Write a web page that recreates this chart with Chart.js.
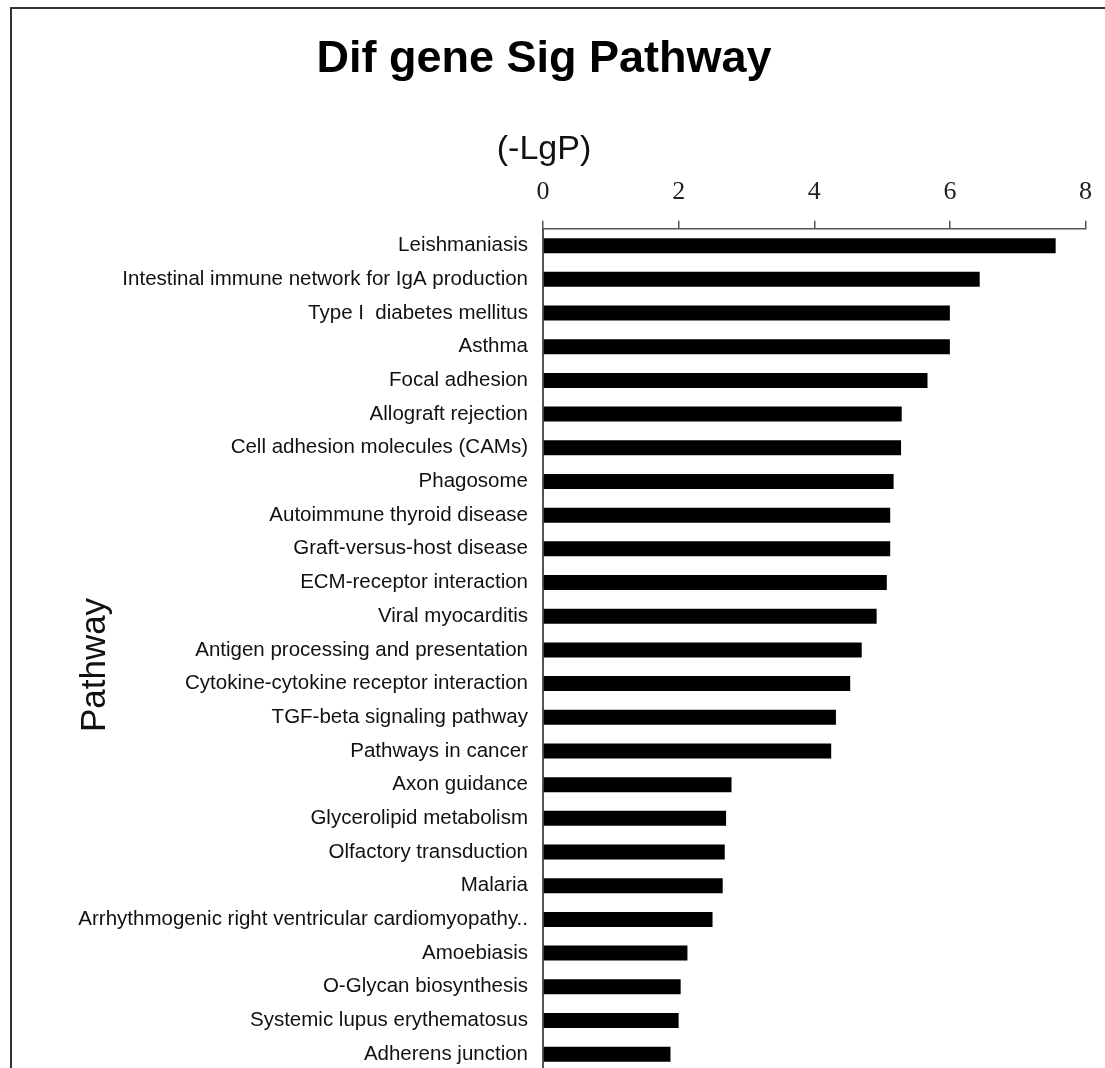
<!DOCTYPE html>
<html>
<head>
<meta charset="utf-8">
<script src="https://cdn.jsdelivr.net/npm/chart.js@4/dist/chart.umd.min.js"></script>
<style>
  html, body { margin: 0; padding: 0; background: #fff; overflow: hidden; }
  #wrap { width: 1105px; height: 1068px; overflow: hidden; }
</style>
</head>
<body>
<div id="wrap"><canvas id="c" width="1105" height="1100"></canvas></div>
<script>
const chartTitle = 'Dif gene Sig Pathway';
const xAxisTitle = '(-LgP)';
const yAxisTitle = 'Pathway';

const categories = [
  'Leishmaniasis',
  'Intestinal immune network for IgA production',
  'Type I  diabetes mellitus',
  'Asthma',
  'Focal adhesion',
  'Allograft rejection',
  'Cell adhesion molecules (CAMs)',
  'Phagosome',
  'Autoimmune thyroid disease',
  'Graft-versus-host disease',
  'ECM-receptor interaction',
  'Viral myocarditis',
  'Antigen processing and presentation',
  'Cytokine-cytokine receptor interaction',
  'TGF-beta signaling pathway',
  'Pathways in cancer',
  'Axon guidance',
  'Glycerolipid metabolism',
  'Olfactory transduction',
  'Malaria',
  'Arrhythmogenic right ventricular cardiomyopathy..',
  'Amoebiasis',
  'O-Glycan biosynthesis',
  'Systemic lupus erythematosus',
  'Adherens junction'
];

const negLogP = [
  7.56, 6.44, 6.00, 6.00, 5.67, 5.29, 5.28, 5.17, 5.12, 5.12,
  5.07, 4.92, 4.70, 4.53, 4.32, 4.25, 2.78, 2.70, 2.68, 2.65,
  2.50, 2.13, 2.03, 2.00, 1.88
];

const xTickLabels = ['0', '2', '4', '6', '8'];

const framePlugin = {
  id: 'frame',
  beforeDraw(chart) {
    const ctx = chart.ctx;
    ctx.save();
    ctx.fillStyle = '#ffffff';
    ctx.fillRect(0, 0, chart.width, chart.height);
    ctx.strokeStyle = '#333333';
    ctx.lineWidth = 2;
    ctx.strokeRect(11, 8, 1300, 1300);
    ctx.restore();
  },
  afterDraw(chart) {
    const ctx = chart.ctx;
    ctx.save();
    ctx.translate(105, 665);
    ctx.rotate(-Math.PI / 2);
    ctx.font = '35px "Liberation Sans", Arial, sans-serif';
    ctx.fillStyle = '#111111';
    ctx.textAlign = 'center';
    ctx.textBaseline = 'alphabetic';
    ctx.fillText(yAxisTitle, 0, 0);
    ctx.restore();
  }
};

new Chart(document.getElementById('c'), {
  type: 'bar',
  data: {
    labels: categories,
    datasets: [{
      data: negLogP,
      backgroundColor: '#000000',
      borderWidth: 0,
      categoryPercentage: 1.0,
      barPercentage: 0.445
    }]
  },
  options: {
    indexAxis: 'y',
    responsive: false,
    animation: false,
    layout: { padding: { left: 0, right: 17, top: 0, bottom: 29 } },
    plugins: {
      legend: { display: false },
      tooltip: { enabled: false },
      title: {
        display: true,
        text: chartTitle,
        color: '#000000',
        font: { family: '"Liberation Sans", Arial, sans-serif', size: 45, weight: 'bold', lineHeight: 1.2 },
        padding: { top: 33, bottom: 0 }
      },
      subtitle: {
        display: true,
        text: xAxisTitle,
        color: '#111111',
        font: { family: '"Liberation Sans", Arial, sans-serif', size: 34, weight: 'normal', lineHeight: 1.2 },
        padding: { top: 42, bottom: 0 }
      }
    },
    scales: {
      x: {
        position: 'top',
        min: 0,
        max: 8,
        afterFit(scale) { scale.height = 59; },
        ticks: {
          stepSize: 2,
          padding: 13,
          color: '#222222',
          font: { family: '"Liberation Serif", "Times New Roman", serif', size: 26 },
          callback: (v, i) => xTickLabels[i]
        },
        grid: {
          display: true,
          drawOnChartArea: false,
          drawTicks: true,
          tickLength: 8,
          color: '#555555',
          lineWidth: 1.5
        },
        border: { display: true, color: '#555555', width: 1.5 }
      },
      y: {
        afterFit(scale) { scale.width = 543; },
        ticks: {
          autoSkip: false,
          padding: 7,
          color: '#111111',
          font: { family: '"Liberation Sans", Arial, sans-serif', size: 20.5 }
        },
        grid: { display: false },
        border: { display: true, color: '#555555', width: 2 }
      }
    }
  },
  plugins: [framePlugin]
});
</script>
</body>
</html>
